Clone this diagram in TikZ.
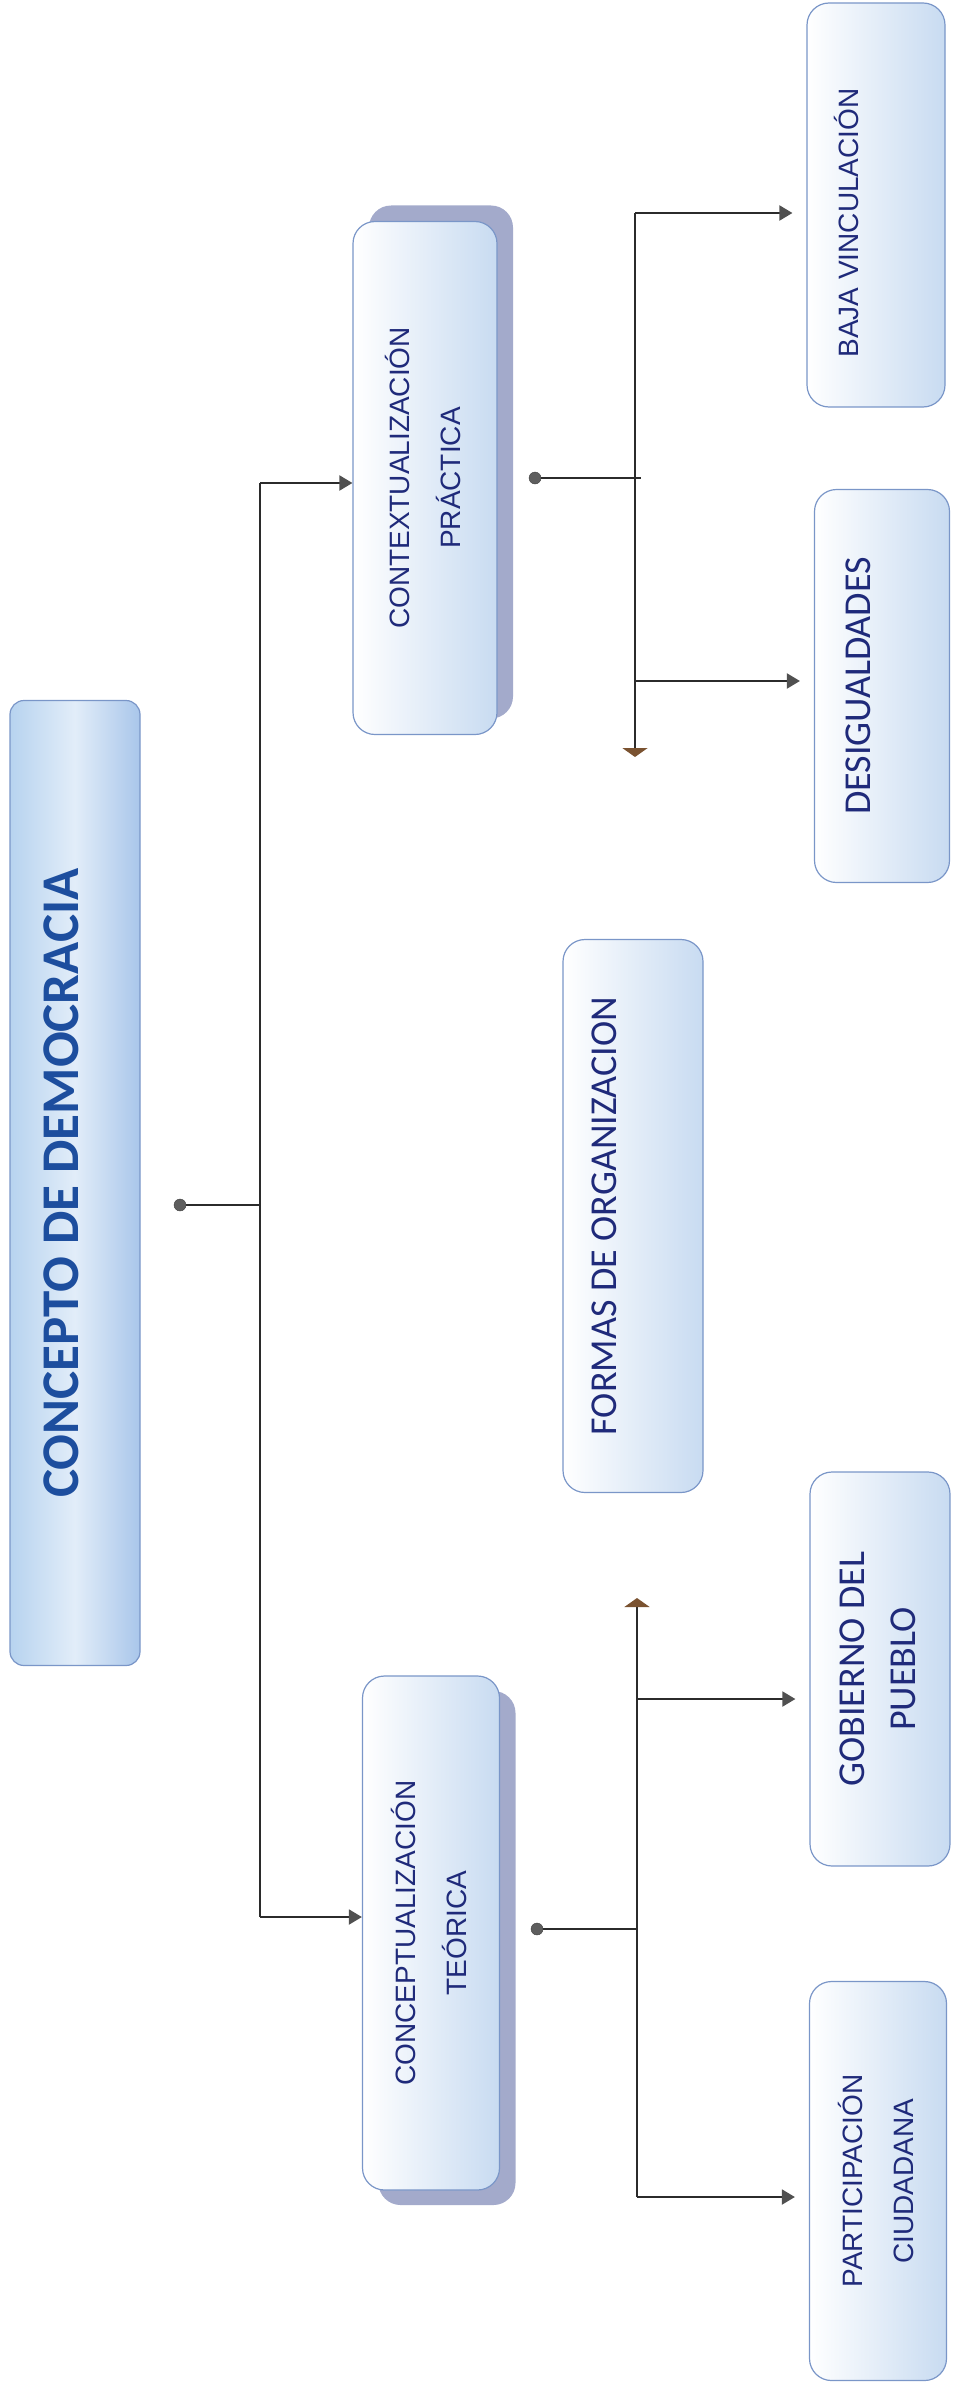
\documentclass[tikz,border=0pt]{standalone}
\usepackage{graphicx}
\usepackage{fontspec}
\setmainfont{Carlito}
\newfontfamily\arialfont{Liberation Sans}
\usetikzlibrary{arrows.meta,shadows,calc}
\definecolor{textnavy}{HTML}{1F2A7A}
\definecolor{titleblue}{HTML}{1D4E9E}
\definecolor{edgeblue}{HTML}{7A96C8}
\definecolor{paleblue}{HTML}{C8DBF1}
\definecolor{mainleft}{HTML}{B7D3EF}
\definecolor{mainmid}{HTML}{E2EDF9}
\definecolor{mainright}{HTML}{A9C6EA}
\definecolor{shadowgray}{HTML}{A3AACB}
\definecolor{tipbrown}{HTML}{7A5230}
\definecolor{tipgray}{HTML}{505050}
\definecolor{linegray}{HTML}{2B2B2B}
\definecolor{dotgray}{HTML}{5E5E5E}

\begin{document}
\begin{tikzpicture}[x=1pt,y=-1pt,
    box/.style={draw=edgeblue,line width=1.2pt,rounded corners=22pt,
      left color=white,right color=paleblue,text=textnavy,inner sep=0pt},
    mainshade/.style={left color=mainleft,right color=mainright,middle color=mainmid},
    liftup/.style={drop shadow={shadow xshift=16pt,shadow yshift=16pt,fill=shadowgray,opacity=1}},
    liftdown/.style={drop shadow={shadow xshift=16pt,shadow yshift=-15pt,fill=shadowgray,opacity=1}},
    link/.style={draw=linegray,line width=2pt},
    arrowlink/.style={link,-{Triangle[length=13pt,width=15pt,fill=tipgray,color=tipgray]}},
    gap/.style={shorten >=14pt},
    endlink/.style={link,-{Triangle[length=9pt,width=25pt,fill=tipbrown,color=tipbrown]}},
    dot/.style={circle,fill=dotgray,draw=dotgray!70!black,inner sep=0pt,minimum size=12pt},
    calibri/.style={font=\fontsize{38}{51}\selectfont},
    arial/.style={font=\arialfont\fontsize{28}{51}\selectfont}]
    \useasboundingbox (0,0) rectangle (958,2384);

    % main concept
    \node[box,mainshade,rounded corners=14pt,minimum width=130pt,minimum height=965pt,
      text=titleblue,font=\fontsize{53}{60}\selectfont\bfseries] (concepto) at (75,1183)
      {\rotatebox{90}{CONCEPTO DE DEMOCRACIA}\hspace*{28pt}};

    % second level
    \node[box,liftup,arial,minimum width=144pt,minimum height=513pt] (contextual) at (425,478)
      {\rotatebox{90}{\begin{tabular}{@{}c@{}}CONTEXTUALIZACIÓN\\PRÁCTICA\end{tabular}}};
    \node[box,liftdown,arial,minimum width=137pt,minimum height=514pt] (conceptual) at (431,1933)
      {\rotatebox{90}{\begin{tabular}{@{}c@{}}CONCEPTUALIZACIÓN\\TEÓRICA\end{tabular}}};
    \node[box,calibri,minimum width=140pt,minimum height=553pt] (formas) at (633,1216)
      {\rotatebox{90}{FORMAS DE ORGANIZACION}\hspace*{58pt}};

    % third level
    \node[box,arial,minimum width=138pt,minimum height=404pt] (baja) at (876,205)
      {\rotatebox{90}{BAJA VINCULACIÓN\hspace*{36pt}}\hspace*{60pt}};
    \node[box,calibri,minimum width=135pt,minimum height=393pt] (desig) at (882,686)
      {\rotatebox{90}{DESIGUALDADES}\hspace*{48pt}};
    \node[box,calibri,minimum width=140pt,minimum height=394pt] (gobierno) at (880,1669)
      {\rotatebox{90}{\begin{tabular}{@{}c@{}}GOBIERNO DEL\\PUEBLO\end{tabular}}};
    \node[box,arial,minimum width=137pt,minimum height=399pt] (particip) at (878,2181)
      {\rotatebox{90}{\begin{tabular}{@{}c@{}}PARTICIPACIÓN\\CIUDADANA\end{tabular}}};

    % dots
    \node[dot] (d0) at (180,1205) {};
    \node[dot] (d1) at (535,478) {};
    \node[dot] (d2) at (537,1929) {};

    % trunk from the main concept
    \coordinate (t0) at (260,1205);
    \coordinate (t0a) at (260,483);
    \coordinate (t0b) at (260,1917);
    \draw[link] (d0) -- (t0);
    \draw[link] (t0a) -- (t0b);
    \draw[arrowlink] (t0a) -- (t0a -| contextual.west);
    \draw[arrowlink] (t0b) -- (t0b -| conceptual.west);

    % upper branch
    \coordinate (t1) at (641,478);
    \coordinate (t1a) at (635,213);
    \coordinate (t1b) at (635,757);
    \coordinate (t1d) at (635,681);
    \draw[link] (d1) -- (t1);
    \draw[endlink] (t1a) -- (t1b);
    \draw[arrowlink,gap] (t1a) -- (t1a -| baja.west);
    \draw[arrowlink,gap] (t1d) -- (t1d -| desig.west);

    % lower branch
    \coordinate (t2) at (637,1929);
    \coordinate (t2a) at (637,1598);
    \coordinate (t2b) at (637,2197);
    \coordinate (t2d) at (637,1699);
    \draw[link] (d2) -- (t2);
    \draw[endlink] (t2b) -- (t2a);
    \draw[arrowlink,gap] (t2d) -- (t2d -| gobierno.west);
    \draw[arrowlink,gap] (t2b) -- (t2b -| particip.west);
\end{tikzpicture}
\end{document}
